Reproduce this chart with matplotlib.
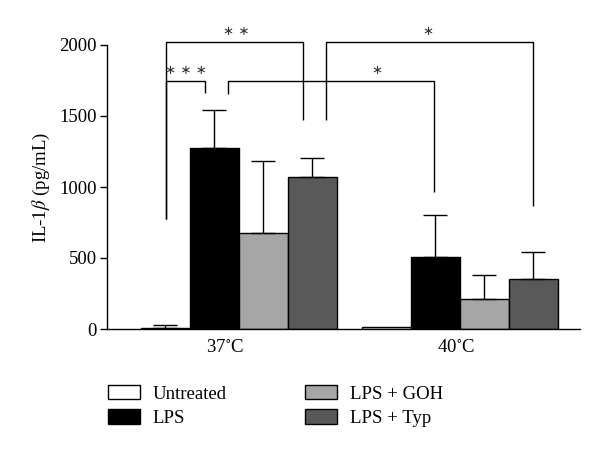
import matplotlib
matplotlib.use("Agg")
import matplotlib.pyplot as plt
from matplotlib.patches import Patch
import numpy as np

plt.rcParams['font.family'] = ['Liberation Serif', 'DejaVu Serif']
plt.rcParams['mathtext.fontset'] = 'stix'

groups = ["37$^{\\circ}$C", "40$^{\\circ}$C"]
treatments = ["Untreated", "LPS", "LPS + GOH", "LPS + Typ"]
values = {
    "Untreated": [10, 12],
    "LPS": [1277, 509],
    "LPS + GOH": [676, 211],
    "LPS + Typ": [1073, 350],
}
errors = {
    "Untreated": [18, 0],
    "LPS": [263, 294],
    "LPS + GOH": [507, 169],
    "LPS + Typ": [130, 190],
}
colors = {
    "Untreated": "#ffffff",
    "LPS": "#000000",
    "LPS + GOH": "#a6a6a6",
    "LPS + Typ": "#595959",
}

FS = 13.5

fig = plt.figure(figsize=(6.0, 4.51), dpi=100)
ax = fig.add_axes([107/600, 1-329/451, (580-107)/600, (329-45)/451])

group_centers = np.array([0.0, 4.51])
offsets = np.array([-1.5, -0.5, 0.5, 1.5])
width = 1.0

def xpos(g, t):
    return group_centers[g] + offsets[t]

for ti, t in enumerate(treatments):
    xs = group_centers + offsets[ti]
    ax.bar(xs, values[t], width=width, color=colors[t], edgecolor='black',
           linewidth=1.0, zorder=2)
    err = np.array(errors[t])
    vals = np.array(values[t])
    for x, v, e in zip(xs, vals, err):
        if e > 0:
            ax.errorbar([x], [v], yerr=[[0], [e]], fmt='none', ecolor='black',
                        elinewidth=1.0, capsize=8.5, capthick=1.0, zorder=3)

# brackets (hand-tuned geometry around bars)
def bracket(x1, x2, ytop, y1b, y2b, label, tx):
    ax.plot([x1, x1, x2, x2], [y1b, ytop, ytop, y2b], color='black', lw=1.0,
            clip_on=False, zorder=4, solid_capstyle='butt')
    ax.text(tx, ytop + 75, label, ha='center', va='center', fontsize=9.5,
            clip_on=False, family='DejaVu Sans', color='#333333')

bracket(xpos(0, 0) + 0.01, xpos(0, 1) - 0.19, 1746, 775, 1664, "∗ ∗ ∗", -1.07)
bracket(xpos(0, 0) + 0.01, xpos(0, 3) - 0.19, 2019, 775, 1472, "∗ ∗", -0.05)
bracket(xpos(0, 1) + 0.27, xpos(1, 1) - 0.02, 1746, 1655, 967, "∗", 2.82)
bracket(xpos(0, 3) + 0.27, xpos(1, 3), 2019, 1472, 866, "∗", 3.86)

ax.set_xlim(-2.69, 6.96)
ax.set_ylim(0, 2000)
ax.set_yticks([0, 500, 1000, 1500, 2000])
ax.set_xticks(group_centers + np.array([-0.28, -0.09]))
ax.set_xticklabels(groups, fontsize=FS)
ax.tick_params(axis='x', length=0, pad=7)
ax.tick_params(axis='y', length=5, width=1.0, pad=2.5, labelsize=FS, direction='out')
for s in ['top', 'right']:
    ax.spines[s].set_visible(False)
for s in ['left', 'bottom']:
    ax.spines[s].set_linewidth(1.0)
ax.set_ylabel("IL-1$\\mathit{\\beta}$ (pg/mL)", fontsize=FS, labelpad=5)

handles = [Patch(facecolor=colors[t], edgecolor='black', linewidth=1.0) for t in treatments]
fig.legend(handles, treatments, loc='upper left', bbox_to_anchor=(108/600, 1-385/451),
           ncol=2, frameon=False, fontsize=FS, borderpad=0, borderaxespad=0,
           handlelength=1.7, handleheight=0.8, handletextpad=0.67,
           columnspacing=4.2, labelspacing=0.35)

fig.savefig("out.png", dpi=100)
